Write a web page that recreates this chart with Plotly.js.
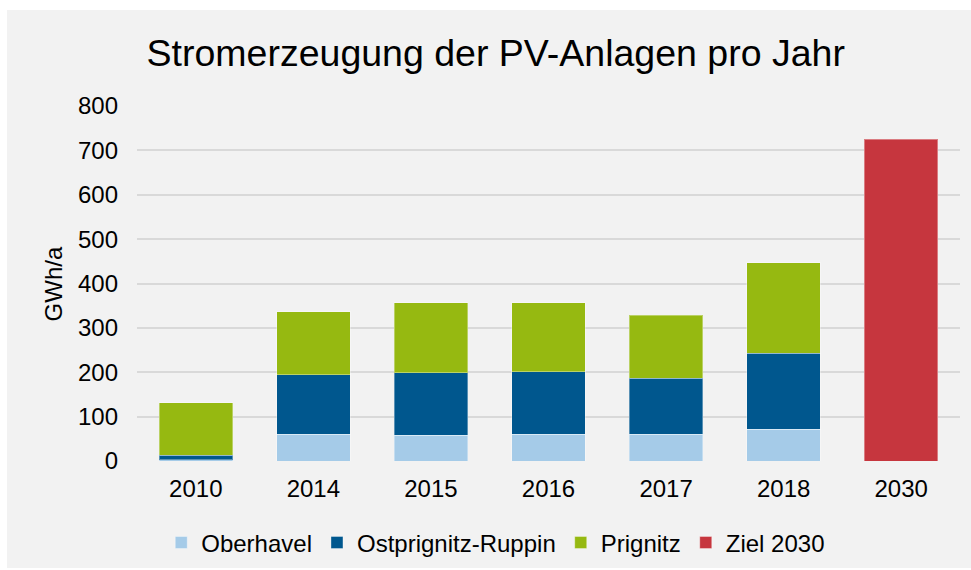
<!DOCTYPE html>
<html>
<head>
<meta charset="utf-8">
<script src="https://cdn.plot.ly/plotly-3.0.1.min.js"></script>
<style>
  html, body { margin: 0; padding: 0; background: #ffffff; }
  #chart { position: absolute; left: 7px; top: 10px; width: 964px; height: 558px; }
</style>
</head>
<body>
<div id="chart"></div>
<script>
const years = ['2010', '2014', '2015', '2016', '2017', '2018', '2030'];
const oberhavel = [3, 60, 58, 60, 60, 72, null];
const ostprignitzRuppin = [10, 134, 141, 141, 127, 171, null];
const prignitz = [118, 142, 158, 156, 141, 204, null];
const ziel2030 = [null, null, null, null, null, null, 725];
const yTicks = [0, 100, 200, 300, 400, 500, 600, 700, 800];

const font = 'Liberation Sans, Arial, sans-serif';
const edge = { color: 'rgba(255,255,255,0.35)', width: 1 };

const traces = [
  { type: 'bar', name: 'Oberhavel', x: years, y: oberhavel, marker: { color: '#a5cbe8', line: edge } },
  { type: 'bar', name: 'Ostprignitz-Ruppin', x: years, y: ostprignitzRuppin, marker: { color: '#00578e', line: edge } },
  { type: 'bar', name: 'Prignitz', x: years, y: prignitz, marker: { color: '#96b911', line: edge } },
  { type: 'bar', name: 'Ziel 2030', x: years, y: ziel2030, marker: { color: '#c6363e', line: edge } }
];

const layout = {
  width: 964,
  height: 558,
  paper_bgcolor: '#f2f2f2',
  plot_bgcolor: '#f2f2f2',
  barmode: 'stack',
  bargap: 0.375,
  margin: { l: 130, r: 11, t: 96, b: 107, pad: 0, autoexpand: false },
  font: { family: font, color: '#000000', size: 24 },
  title: {
    text: 'Stromerzeugung der PV-Anlagen pro Jahr',
    font: { family: font, size: 37.5, color: '#000000' },
    x: 0.507, xref: 'container', xanchor: 'center',
    y: 0.923, yref: 'container', yanchor: 'middle'
  },
  xaxis: {
    type: 'category',
    categoryorder: 'array',
    categoryarray: years,
    showgrid: false,
    showline: false,
    zeroline: false,
    ticks: '',
    ticklabelstandoff: 11,
    tickfont: { family: font, size: 24, color: '#000000' }
  },
  yaxis: {
    range: [0, 800],
    tickmode: 'array',
    tickvals: yTicks,
    ticktext: yTicks.map(String),
    showgrid: true,
    gridcolor: '#d9d9d9',
    gridwidth: 2,
    zeroline: false,
    showline: false,
    ticks: '',
    ticklabelstandoff: 18,
    tickfont: { family: font, size: 24, color: '#000000' }
  },
  annotations: [{
    text: 'GWh/a',
    xref: 'paper', yref: 'paper',
    x: -0.101, y: 0.5,
    xanchor: 'center', yanchor: 'middle',
    textangle: -90,
    showarrow: false,
    font: { family: font, size: 24, color: '#000000' }
  }],
  legend: {
    orientation: 'h',
    x: 0.507, xanchor: 'center', xref: 'container',
    y: 0.045, yanchor: 'middle', yref: 'container',
    font: { family: font, size: 24, color: '#000000' },
    traceorder: 'normal',
    itemwidth: 30,
    bgcolor: 'rgba(0,0,0,0)'
  },
  showlegend: true
};

Plotly.newPlot('chart', traces, layout, { displayModeBar: false, staticPlot: true });
</script>
</body>
</html>
